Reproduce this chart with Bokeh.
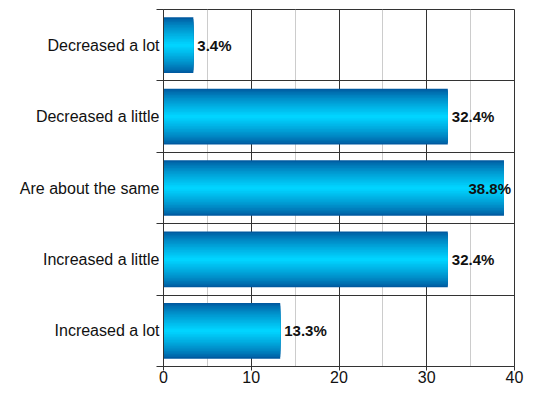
from bokeh.plotting import figure
from bokeh.models import Range1d, FixedTicker, ColumnDataSource
from bokeh.core.properties import value
from bokeh.embed import file_html
from bokeh.resources import INLINE

categories = ["Decreased a lot", "Decreased a little", "Are about the same",
              "Increased a little", "Increased a lot"]
values = [3.4, 32.4, 38.8, 32.4, 13.3]
labels = ["3.4%", "32.4%", "38.8%", "32.4%", "13.3%"]
x_ticks = [0, 10, 20, 30, 40]
x_minor = [5, 15, 25, 35]

n = len(categories)
ys = [n - i - 0.5 for i in range(n)]

p = figure(width=524, height=385, output_backend="svg", toolbar_location=None,
           x_range=Range1d(0, 40), y_range=Range1d(0, n))
p.min_border_left = 163
p.min_border_right = 10
p.min_border_top = 9
p.min_border_bottom = 19
p.outline_line_color = "#333333"
p.background_fill_color = "white"
p.border_fill_color = "white"

# gradient bars: layered hbars, outer dark -> inner light
N = 18
c0 = (0x00, 0x5a, 0xa0)
c1 = (0x00, 0xd4, 0xff)
H = 0.78
for k in range(N):
    t = (k / (N - 1)) ** 0.8
    col = "#%02x%02x%02x" % tuple(int(round(a + (b - a) * t)) for a, b in zip(c0, c1))
    h = H * (1 - k / N)
    p.hbar(y=ys, right=values, left=0, height=h, fill_color=col, line_color=None)

lx = [min(v, 34.3) for v in values]
src = ColumnDataSource(dict(x=lx, y=ys, t=labels))
p.text(x="x", y="y", text="t", source=src, x_offset=4,
       text_font=value("Liberation Sans"), text_font_style="bold",
       text_font_size="15px", text_baseline="middle", text_align="left",
       text_color="#111111")

# x axis
p.xaxis.ticker = FixedTicker(ticks=x_ticks, minor_ticks=x_minor)
p.xaxis.axis_line_color = "#333333"
p.xaxis.major_tick_line_color = "#333333"
p.xaxis.major_tick_out = 4
p.xaxis.major_tick_in = 0
p.xaxis.minor_tick_line_color = None
p.xaxis.major_label_standoff = 0
p.xaxis.major_label_text_font = "Liberation Sans"
p.xaxis.major_label_text_font_size = "16px"
p.xaxis.major_label_text_color = "#111111"

p.xgrid.ticker = FixedTicker(ticks=x_ticks, minor_ticks=x_minor)
p.xgrid.grid_line_color = "#333333"
p.xgrid.minor_grid_line_color = "#cccccc"

# y axis
p.yaxis.ticker = FixedTicker(ticks=ys, minor_ticks=list(range(n + 1)))
p.yaxis.major_label_overrides = {y: c for y, c in zip(ys, categories)}
p.yaxis.axis_line_color = "#333333"
p.yaxis.major_tick_line_color = None
p.yaxis.minor_tick_line_color = "#333333"
p.yaxis.minor_tick_out = 7
p.yaxis.minor_tick_in = 0
p.yaxis.major_label_standoff = -3
p.yaxis.major_label_text_font = "Liberation Sans"
p.yaxis.major_label_text_font_size = "16px"
p.yaxis.major_label_text_color = "#111111"

p.ygrid.ticker = FixedTicker(ticks=list(range(1, n)))
p.ygrid.grid_line_color = "#333333"

open("out.html", "w").write(file_html(p, INLINE))
